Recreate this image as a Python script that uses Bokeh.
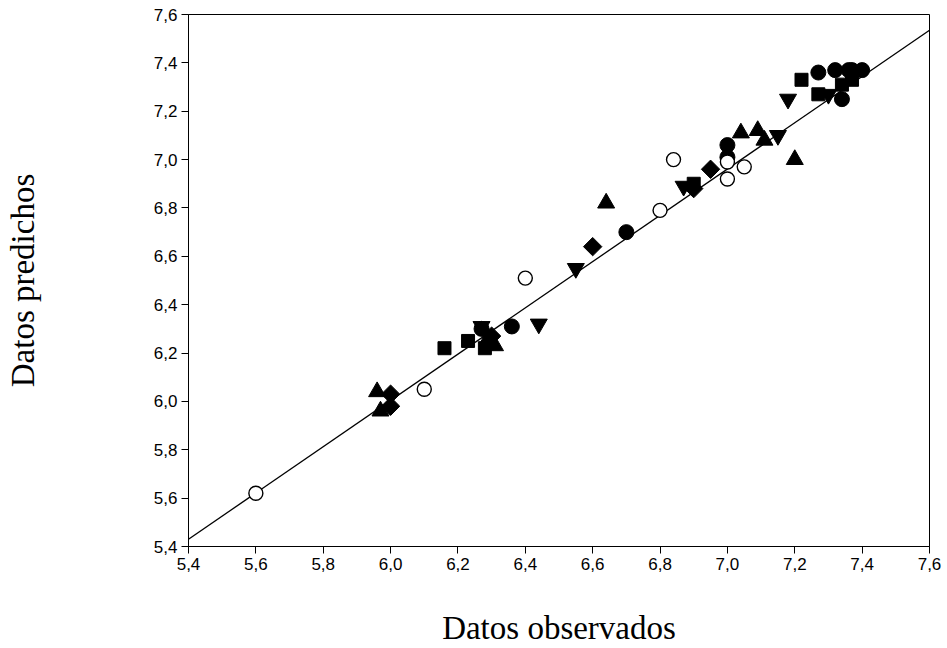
import numpy as np
from bokeh.plotting import figure
from bokeh.models import Range1d, FixedTicker, CustomJSTickFormatter
from bokeh.embed import file_html
from bokeh.resources import INLINE

# ---- data ----
circ_x = [7.00, 7.00, 6.70, 6.36, 6.27, 7.27, 7.32, 7.36, 7.37, 7.40, 7.34]
circ_y = [7.06, 7.01, 6.70, 6.31, 6.30, 7.36, 7.37, 7.37, 7.37, 7.37, 7.25]

open_x = [5.60, 6.10, 6.40, 6.80, 6.84, 7.00, 7.05, 7.00]
open_y = [5.62, 6.05, 6.51, 6.79, 7.00, 6.99, 6.97, 6.92]

tri_x = [5.96, 5.97, 6.31, 6.29, 6.64, 7.04, 7.09, 7.11, 7.20]
tri_y = [6.04, 5.96, 6.23, 6.26, 6.82, 7.11, 7.12, 7.08, 7.00]

inv_x = [6.27, 6.44, 6.55, 6.87, 7.15, 7.18, 7.30]
inv_y = [6.31, 6.32, 6.55, 6.89, 7.10, 7.25, 7.27]

sq_x = [6.16, 6.23, 6.28, 6.90, 7.22, 7.27, 7.34, 7.37]
sq_y = [6.22, 6.25, 6.22, 6.90, 7.33, 7.27, 7.31, 7.33]

dia_x = [6.00, 6.00, 6.30, 6.60, 6.90, 6.95]
dia_y = [6.03, 5.98, 6.27, 6.64, 6.88, 6.96]

fit_x = [5.40, 7.60]
fit_y = [5.43, 7.535]

tick_vals = [5.4, 5.6, 5.8, 6.0, 6.2, 6.4, 6.6, 6.8, 7.0, 7.2, 7.4, 7.6]
tick_labels = ["5,4", "5,6", "5,8", "6,0", "6,2", "6,4", "6,6", "6,8", "7,0", "7,2", "7,4", "7,6"]

x_title = "Datos observados"
y_title = "Datos predichos"

# ---- figure ----
p = figure(width=947, height=648,
           x_range=Range1d(5.4, 7.6), y_range=Range1d(5.4, 7.6),
           output_backend="svg", toolbar_location=None,
           min_border_left=188, min_border_right=18,
           min_border_top=14, min_border_bottom=101)
p.background_fill_color = "white"
p.border_fill_color = "white"
p.xgrid.visible = False
p.ygrid.visible = False
p.outline_line_color = "black"
p.outline_line_width = 1
p.outline_line_alpha = 1

fmt = CustomJSTickFormatter(args=dict(vals=tick_vals, labs=tick_labels), code="""
let best = 0, bd = 1e9;
for (let i = 0; i < vals.length; i++) {
  const d = Math.abs(vals[i] - tick);
  if (d < bd) { bd = d; best = i; }
}
return labs[best];
""")

for ax in (p.xaxis[0], p.yaxis[0]):
    ax.ticker = FixedTicker(ticks=tick_vals)
    ax.formatter = fmt
    ax.major_tick_in = 0
    ax.major_tick_out = 7
    ax.minor_tick_line_color = None
    ax.axis_line_color = "black"
    ax.major_tick_line_color = "black"
    ax.major_label_text_font = "Liberation Sans"
    ax.major_label_text_font_size = "17px"
    ax.major_label_text_color = "black"
    ax.major_label_standoff = 4
    ax.axis_label_text_font = "Liberation Serif"
    ax.axis_label_text_font_size = "33px"
    ax.axis_label_text_font_style = "normal"
    ax.axis_label_text_color = "black"

p.xaxis.axis_label = x_title
p.yaxis.axis_label = y_title
p.xaxis.axis_label_standoff = 37
p.yaxis.axis_label_standoff = 110

# regression line
p.line(fit_x, fit_y, line_color="black", line_width=1.3)

# markers
p.scatter(circ_x, circ_y, marker="circle", size=15, fill_color="black", line_color="black")
p.scatter(tri_x, tri_y, marker="triangle", size=17, fill_color="black", line_color="black")
p.scatter(inv_x, inv_y, marker="inverted_triangle", size=17, fill_color="black", line_color="black")
p.scatter(sq_x, sq_y, marker="square", size=13, fill_color="black", line_color="black")
p.scatter(dia_x, dia_y, marker="square", size=13, angle=np.pi / 4, fill_color="black", line_color="black")
p.scatter(open_x, open_y, marker="circle", size=14, fill_color="white", line_color="black", line_width=1.4)

open("out.html", "w").write(file_html(p, INLINE))
